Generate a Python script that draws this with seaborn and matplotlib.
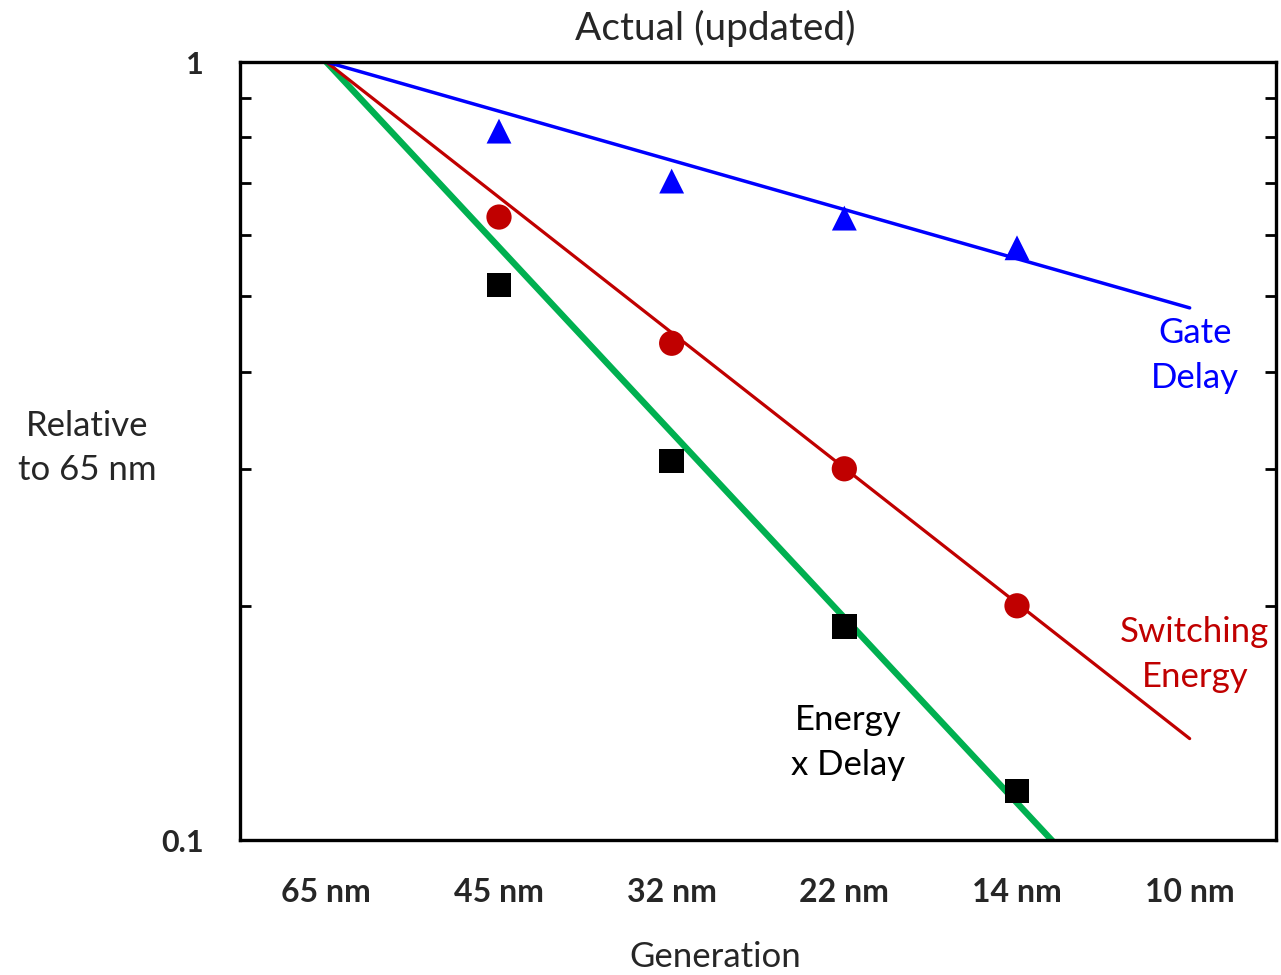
import numpy as np
import pandas as pd
import matplotlib
matplotlib.use("Agg")
import matplotlib.pyplot as plt
import seaborn as sns
from matplotlib.ticker import FixedLocator, NullFormatter

# %%
# values (relative to 65 nm)
generations = ["65 nm", "45 nm", "32 nm", "22 nm", "14 nm", "10 nm"]

gate_delay = [0.815, 0.703, 0.630, 0.577]          # 45 .. 14 nm
switching_energy = [0.632, 0.435, 0.300, 0.200]
energy_delay = [0.517, 0.307, 0.188, 0.1156]
point_gens = ["45 nm", "32 nm", "22 nm", "14 nm"]

# trend lines: 65 nm -> 10 nm
trend_gens = ["65 nm", "10 nm"]
gate_trend = [1.0, 0.483]
switch_trend = [1.0, 0.135]
ed_trend = [1.0, 0.0645]

BLUE = "#0000FF"
RED = "#C00000"
GREEN = "#00B050"

# %%
sns.set_style("white")
plt.rcParams["font.family"] = ["Lato", "DejaVu Sans"]

pos = {g: i for i, g in enumerate(generations)}
px = [pos[g] for g in point_gens]
tx = [pos[g] for g in trend_gens]

fig = plt.figure(figsize=(12.81, 9.75), dpi=100)
ax = fig.add_axes([240 / 1281, 1 - 840 / 975, (1276 - 240) / 1281, (840 - 62) / 975])

sns.lineplot(x=tx, y=ed_trend, color=GREEN, linewidth=4.6, ax=ax)
sns.lineplot(x=tx, y=switch_trend, color=RED, linewidth=2.3, ax=ax)
sns.lineplot(x=tx, y=gate_trend, color=BLUE, linewidth=2.5, ax=ax)

sns.scatterplot(x=px, y=gate_delay, marker="^", s=320, color=BLUE, edgecolor="none", ax=ax, zorder=4)
sns.scatterplot(x=px, y=switching_energy, marker="o", s=330, color=RED, edgecolor="none", ax=ax, zorder=4)
sns.scatterplot(x=px, y=energy_delay, marker="s", s=310, color="black", edgecolor="none", ax=ax, zorder=4)

ax.set_yscale("log")
ax.set_ylim(0.1, 1)
ax.set_xlim(-0.5, 5.5)

ax.yaxis.set_major_locator(FixedLocator([0.1, 1]))
ax.set_yticklabels(["0.1", "1"], fontsize=22, fontweight="bold")
ax.yaxis.set_minor_locator(FixedLocator(np.arange(0.2, 1.0, 0.1)))
ax.yaxis.set_minor_formatter(NullFormatter())
ax.tick_params(axis="y", which="both", direction="in", left=True, right=True,
               length=8, width=2, color="black", pad=26)

ax.set_xticks(range(len(generations)))
ax.set_xticklabels(generations, fontsize=23, fontweight="bold")
ax.tick_params(axis="x", which="both", bottom=False, top=False, pad=24)

for s in ax.spines.values():
    s.set_color("black")
    s.set_linewidth(2.4)

ax.set_xlabel("")
ax.set_ylabel("")

fig.text(715 / 1281, 1 - 28 / 975, "Actual (updated)", ha="center", va="center", fontsize=28)
fig.text(715 / 1281, 1 - 957 / 975, "Generation", ha="center", va="center", fontsize=25)
fig.text(87 / 1281, 1 - 448 / 975, "Relative\nto 65 nm", ha="center", va="center",
         fontsize=25, linespacing=1.5)

ax.text(5.03, 0.420, "Gate\nDelay", color=BLUE, ha="center", va="center", fontsize=25,
        linespacing=1.5)
ax.text(5.03, 0.173, "Switching\nEnergy", color=RED, ha="center", va="center", fontsize=25,
        linespacing=1.5, clip_on=False)
ax.text(3.02, 0.1336, "Energy\nx Delay", color="black", ha="center", va="center", fontsize=25,
        linespacing=1.5)

fig.savefig("out.png", dpi=100)
